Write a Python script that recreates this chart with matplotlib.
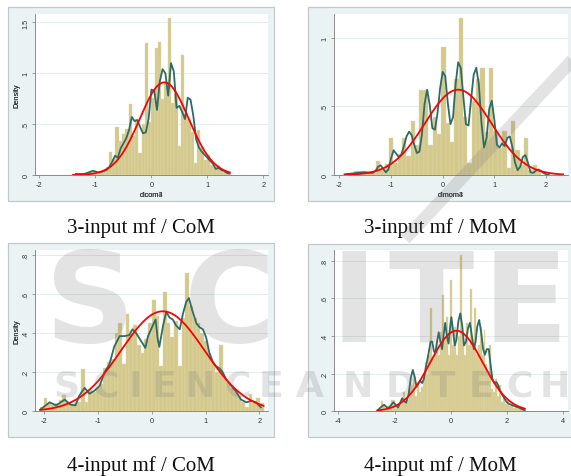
import numpy as np
import matplotlib
matplotlib.use("Agg")
import matplotlib.pyplot as plt
from matplotlib.patches import Rectangle
from matplotlib.lines import Line2D

W, H = 571, 477

# ---------------- data ----------------
# panel 1 : 3-input mf / CoM  (variable dicom3)
p1_range = (-1.40, 1.40)
p1_heights = [0.01, 0.01, 0.0, 0.02, 0.02, 0.04, 0.03, 0.01, 0.03, 0.05, 0.08,
              0.23, 0.16, 0.47, 0.33, 0.40, 0.45, 0.70, 0.38, 0.55, 0.22,
              0.50, 1.30, 0.52, 0.76, 1.25, 1.31, 0.75, 0.90, 1.54, 0.71,
              0.80, 0.29, 1.18, 0.60, 0.55, 0.42, 0.12, 0.44, 0.28, 0.15,
              0.20, 0.10, 0.08, 0.10, 0.05, 0.03, 0.02]
p1_kde_x = [-1.35, -1.30, -1.25, -1.20, -1.15, -1.10, -1.05, -1.00, -0.95, -0.90,
            -0.85, -0.80, -0.75, -0.70, -0.65, -0.60, -0.55, -0.50, -0.45, -0.40,
            -0.35, -0.30, -0.25, -0.20, -0.15, -0.10, -0.05, 0.00, 0.05, 0.10,
            0.15, 0.20, 0.25, 0.30, 0.35, 0.40, 0.45, 0.50, 0.55, 0.60,
            0.65, 0.70, 0.75, 0.80, 0.85, 0.90, 0.95, 1.00, 1.05, 1.10,
            1.15, 1.20, 1.25, 1.30, 1.35, 1.40]
p1_kde_y = [0.01, 0.01, 0.01, 0.01, 0.02, 0.03, 0.04, 0.035, 0.025, 0.03,
            0.04, 0.05, 0.08, 0.13, 0.19, 0.17, 0.26, 0.31, 0.36, 0.44,
            0.57, 0.53, 0.54, 0.47, 0.41, 0.42, 0.55, 0.84, 0.83, 0.64,
            0.92, 1.04, 1.00, 0.78, 1.10, 1.02, 0.66, 0.68, 0.62, 0.55,
            0.76, 0.74, 0.58, 0.35, 0.27, 0.23, 0.20, 0.17, 0.14, 0.11,
            0.06, 0.07, 0.05, 0.04, 0.02, 0.015]
p1_mu, p1_sd = 0.23, 0.438

# panel 2 : 3-input mf / MoM  (variable dimom3)
p2_range = (-1.88, 2.33)
p2_heights = [0.01, 0.0, 0.03, 0.02, 0.03, 0.03, 0.03, 0.10, 0.04, 0.08,
              0.27, 0.09, 0.15, 0.27, 0.14, 0.39, 0.22, 0.62, 0.62, 0.22,
              0.42, 0.30, 0.93, 0.38, 0.24, 0.70, 1.14, 0.42, 0.09, 0.54,
              0.70, 0.78, 0.31, 0.78, 0.32, 0.20, 0.32, 0.05, 0.39, 0.18,
              0.07, 0.27, 0.04, 0.07, 0.03, 0.0, 0.01, 0.0, 0.0, 0.0]
p2_kde_x = [-1.90, -1.85, -1.80, -1.75, -1.70, -1.65, -1.60, -1.55, -1.50, -1.45,
            -1.40, -1.35, -1.30, -1.25, -1.20, -1.15, -1.10, -1.05, -1.00, -0.95,
            -0.90, -0.85, -0.80, -0.75, -0.70, -0.65, -0.60, -0.55, -0.50, -0.45,
            -0.40, -0.35, -0.30, -0.25, -0.20, -0.15, -0.10, -0.05, 0.00, 0.05,
            0.10, 0.15, 0.20, 0.25, 0.30, 0.35, 0.40, 0.45, 0.50, 0.55,
            0.60, 0.65, 0.70, 0.75, 0.80, 0.85, 0.90, 0.95, 1.00, 1.05,
            1.10, 1.15, 1.20, 1.25, 1.30, 1.35, 1.40, 1.45, 1.50, 1.55,
            1.60, 1.65, 1.70, 1.75, 1.80, 1.85, 1.90, 1.95, 2.00, 2.05]
p2_kde_y = [0.005, 0.007, 0.009, 0.011, 0.013, 0.016, 0.019, 0.02, 0.019, 0.017,
            0.015, 0.016, 0.03, 0.06, 0.07, 0.045, 0.02, 0.04, 0.12, 0.18,
            0.155, 0.13, 0.15, 0.21, 0.28, 0.315, 0.29, 0.22, 0.16, 0.17,
            0.30, 0.52, 0.62, 0.51, 0.34, 0.33, 0.45, 0.63, 0.75, 0.72,
            0.52, 0.37, 0.42, 0.66, 0.82, 0.78, 0.57, 0.37, 0.36, 0.55,
            0.73, 0.78, 0.66, 0.38, 0.20, 0.27, 0.48, 0.54, 0.40, 0.22,
            0.20, 0.23, 0.21, 0.27, 0.28, 0.20, 0.09, 0.035, 0.06, 0.13,
            0.145, 0.09, 0.02, 0.015, 0.03, 0.04, 0.03, 0.015, 0.006, 0.002]
p2_mu, p2_sd = 0.30, 0.643

# panel 3 : 4-input mf / CoM  (variable dicom4)
p3_range = (-2.08, 2.08)
p3_heights = [0.02, 0.07, 0.04, 0.03, 0.04, 0.06, 0.085, 0.05, 0.03, 0.04,
              0.05, 0.215, 0.05, 0.11, 0.10, 0.12, 0.14, 0.22, 0.25, 0.27,
              0.40, 0.45, 0.24, 0.50, 0.40, 0.44, 0.34, 0.30, 0.37, 0.45,
              0.57, 0.49, 0.23, 0.61, 0.45, 0.38, 0.46, 0.23, 0.48, 0.71,
              0.54, 0.48, 0.45, 0.40, 0.36, 0.30, 0.25, 0.20, 0.34, 0.17,
              0.15, 0.12, 0.10, 0.08, 0.05, 0.02, 0.09, 0.04, 0.07, 0.04]
p3_kde_x = [-2.06, -1.90, -1.78, -1.62, -1.52, -1.42, -1.35, -1.25, -1.16, -1.07,
            -0.97, -0.88, -0.79, -0.70, -0.60, -0.51, -0.42, -0.36, -0.29, -0.20,
            -0.12, -0.07, 0.02, 0.07, 0.11, 0.14, 0.21, 0.27, 0.33, 0.39,
            0.45, 0.52, 0.58, 0.64, 0.69, 0.75, 0.83, 0.89, 0.95, 1.01,
            1.07, 1.14, 1.20, 1.26, 1.32, 1.38, 1.48, 1.57, 1.66, 1.76,
            1.85, 1.94, 2.03]
p3_kde_y = [0.012, 0.046, 0.03, 0.06, 0.035, 0.03, 0.08, 0.12, 0.09, 0.105,
            0.13, 0.20, 0.24, 0.33, 0.385, 0.385, 0.39, 0.42, 0.40, 0.36,
            0.325, 0.385, 0.44, 0.47, 0.37, 0.33, 0.44, 0.51, 0.48, 0.47,
            0.44, 0.42, 0.50, 0.56, 0.58, 0.52, 0.45, 0.43, 0.42, 0.38,
            0.30, 0.25, 0.23, 0.22, 0.20, 0.165, 0.13, 0.10, 0.06, 0.046,
            0.054, 0.046, 0.02]
p3_mu, p3_sd = 0.205, 0.779

# panel 4 : 4-input mf / MoM  (variable dimom4)
p4_range = (-2.61, 2.63)
p4_heights = [0.0, 0.01, 0.057, 0.03, 0.01, 0.03, 0.03, 0.06, 0.06, 0.02,
              0.03, 0.05, 0.05, 0.10, 0.04, 0.06, 0.12, 0.14, 0.19, 0.08,
              0.15, 0.10, 0.13, 0.18, 0.26, 0.20, 0.30, 0.55, 0.28, 0.32,
              0.37, 0.30, 0.42, 0.62, 0.38, 0.50, 0.30, 0.70, 0.35, 0.45,
              0.30, 0.40, 0.83, 0.40, 0.30, 0.47, 0.35, 0.65, 0.35, 0.55,
              0.30, 0.35, 0.45, 0.30, 0.43, 0.25, 0.20, 0.35, 0.12, 0.10,
              0.17, 0.08, 0.14, 0.05, 0.07, 0.04, 0.06, 0.03, 0.04, 0.02,
              0.03, 0.02, 0.01, 0.02, 0.01]
p4_kde_x = [-2.61, -2.50, -2.37, -2.30, -2.23, -2.14, -2.05, -1.96, -1.88, -1.80,
            -1.73, -1.66, -1.59, -1.50, -1.42, -1.35, -1.28, -1.22, -1.15, -1.08,
            -1.02, -0.96, -0.88, -0.80, -0.72, -0.66, -0.60, -0.55, -0.49, -0.43,
            -0.37, -0.31, -0.26, -0.20, -0.14, -0.08, -0.03, 0.02, 0.08, 0.14,
            0.20, 0.27, 0.34, 0.41, 0.47, 0.54, 0.61, 0.68, 0.75, 0.82,
            0.88, 0.94, 1.01, 1.08, 1.15, 1.21, 1.28, 1.35, 1.42, 1.48,
            1.55, 1.62, 1.68, 1.75, 1.82, 1.90, 1.98, 2.06, 2.14, 2.22,
            2.32, 2.42, 2.52, 2.63]
p4_kde_y = [0.004, 0.02, 0.035, 0.025, 0.015, 0.03, 0.048, 0.035, 0.02, 0.045,
            0.07, 0.055, 0.045, 0.09, 0.18, 0.22, 0.18, 0.13, 0.15, 0.16,
            0.15, 0.17, 0.24, 0.30, 0.37, 0.37, 0.32, 0.31, 0.37, 0.42,
            0.37, 0.33, 0.40, 0.47, 0.40, 0.36, 0.44, 0.50, 0.43, 0.35,
            0.38, 0.48, 0.52, 0.45, 0.35, 0.37, 0.44, 0.47, 0.40, 0.33,
            0.37, 0.45, 0.485, 0.42, 0.33, 0.30, 0.33, 0.33, 0.24, 0.17,
            0.15, 0.155, 0.14, 0.11, 0.09, 0.07, 0.05, 0.04, 0.035, 0.03,
            0.025, 0.02, 0.012, 0.006]
p4_mu, p4_sd = 0.20, 0.932

panel_xlabels = ["dicom3", "dimom3", "dicom4", "dimom4"]
captions = ["3-input mf / CoM", "3-input mf / MoM", "4-input mf / CoM", "4-input mf / MoM"]
x_ticks = [[-2, -1, 0, 1, 2], [-2, -1, 0, 1, 2], [-2, -1, 0, 1, 2], [-4, -2, 0, 2, 4]]
x_ticklabels = [["-2", "-1", "0", "1", "2"], ["-2", "-1", "0", "1", "2"],
                ["-2", "-1", "0", "1", "2"], ["-4", "-2", "0", "2", "4"]]
y_ticks = [[0, 0.5, 1, 1.5], [0, 0.5, 1], [0, 0.2, 0.4, 0.6, 0.8], [0, 0.2, 0.4, 0.6, 0.8]]
y_ticklabels = [["0", ".5", "1", "1.5"], ["0", ".5", "1"],
                ["0", ".2", ".4", ".6", ".8"], ["0", ".2", ".4", ".6", ".8"]]

# watermark text (publisher overlay)
wm_big = "SCITE"
wm_small = "SCIENCE AND TECH"

# ---------------- layout (pixels) ----------------
plot_boxes = [(35, 268, 15, 176), (334.3, 568, 15, 176),
              (35, 268, 251, 412.3), (334.3, 568, 251, 412.3)]
graph_boxes = [(8, 274, 8, 202), (308, 580, 8, 202),
               (8, 274, 244, 438), (308, 580, 245, 438)]
xlims = [(-2.08, 2.084), (-2.097, 2.425), (-2.173, 2.162), (-4.142, 4.167)]
ylims = [(0, 1.583), (0, 1.171), (0, 0.826), (0, 0.857)]
caption_pos = [(140.5, 233), (440, 233), (140.5, 471), (440, 471)]
wm_big_x = [45, 184, 330, 388, 482]
wm_small_x = [66, 105, 135, 164, 200, 237, 271, None, 310, 358, 401, None, 443, 481, 519, 555]

BAR_FC = "#D3C98D"
BAR_EC = "#E2DBAE"
KDE_C = "#2E6B66"
NORM_C = "#FF0000"
GR_BG = "#EAF2F3"
WM_C = (0.45, 0.45, 0.45, 0.2)

fig = plt.figure(figsize=(W / 100, H / 100), dpi=100)
fig.patch.set_facecolor("white")

def fx(px):
    return px / W

def fy(py):
    return 1 - py / H

panels = [
    (p1_range, p1_heights, p1_kde_x, p1_kde_y, p1_mu, p1_sd),
    (p2_range, p2_heights, p2_kde_x, p2_kde_y, p2_mu, p2_sd),
    (p3_range, p3_heights, p3_kde_x, p3_kde_y, p3_mu, p3_sd),
    (p4_range, p4_heights, p4_kde_x, p4_kde_y, p4_mu, p4_sd),
]

for k, (rng, heights, kx, ky, mu, sd) in enumerate(panels):
    gx0, gx1, gy0, gy1 = graph_boxes[k]
    fig.patches.append(Rectangle((fx(gx0), fy(gy1)), fx(gx1) - fx(gx0), fy(gy0) - fy(gy1),
                                 transform=fig.transFigure, facecolor=GR_BG,
                                 edgecolor="#C4C8C8", linewidth=0.9, zorder=-10))
    x0, x1, y0, y1 = plot_boxes[k]
    ax = fig.add_axes([fx(x0), fy(y1), fx(x1) - fx(x0), fy(y0) - fy(y1)])
    ax.set_zorder(1)
    ax.set_facecolor("white")
    n = len(heights)
    edges = np.linspace(rng[0], rng[1], n + 1)
    centers = 0.5 * (edges[:-1] + edges[1:])
    ax.bar(centers, heights, width=edges[1] - edges[0], color=BAR_FC,
           edgecolor=BAR_EC, linewidth=0.3, zorder=2)
    ax.plot(kx, ky, color=KDE_C, lw=1.3, zorder=3, solid_joinstyle="round")
    xs = np.linspace(rng[0], rng[1], 300)
    ys = np.exp(-0.5 * ((xs - mu) / sd) ** 2) / (sd * np.sqrt(2 * np.pi))
    ax.plot(xs, ys, color=NORM_C, lw=1.3, zorder=4)

    ax.set_xlim(*xlims[k])
    ax.set_ylim(*ylims[k])
    ax.set_xticks(x_ticks[k])
    ax.set_xticklabels(x_ticklabels[k])
    ax.set_yticks(y_ticks[k])
    ax.set_yticklabels(y_ticklabels[k], rotation=90, va="center")
    for t in y_ticks[k][1:]:
        ax.axhline(t, color="#E4ECEE", lw=0.7, zorder=1)
    for s in ["top", "right"]:
        ax.spines[s].set_visible(False)
    for s in ["left", "bottom"]:
        ax.spines[s].set_color("#7A7A7A")
        ax.spines[s].set_linewidth(0.6)
    ax.tick_params(axis="both", length=2.5, width=0.5, color="#7A7A7A",
                   labelsize=5.3, labelcolor="#333333", pad=1.5)
    for lab in ax.get_xticklabels() + ax.get_yticklabels():
        lab.set_fontfamily(["Liberation Sans", "DejaVu Sans"])
    ax.set_ylabel("Density", fontsize=5.3, color="#333333",
                  fontfamily=["Liberation Sans", "DejaVu Sans"])
    ax.set_xlabel(panel_xlabels[k], fontsize=5.3, color="#333333",
                  fontfamily=["Liberation Sans", "DejaVu Sans"])
    ax.yaxis.set_label_coords((20 - x0) / (x1 - x0), 0.5)
    ax.xaxis.set_label_coords(0.5, -(192 - y1) / (y1 - y0))

    cx, cy = caption_pos[k]
    fig.text(fx(cx), fy(cy), captions[k], ha="center", va="baseline",
             fontsize=15, fontfamily=["Liberation Serif", "DejaVu Serif"],
             color="#111111", zorder=5)

# ---------------- watermark overlay ----------------
for ch, px in zip(wm_big, wm_big_x):
    fig.text(fx(px), fy(342), ch, ha="left", va="baseline", fontsize=90,
             fontweight="bold", fontfamily="DejaVu Sans", color=WM_C, zorder=20)
for ch, px in zip(wm_small, wm_small_x):
    if px is None:
        continue
    fig.text(fx(px), fy(397), ch, ha="center", va="baseline", fontsize=26,
             fontweight="bold", fontfamily="DejaVu Sans", color=WM_C, zorder=20)
fig.add_artist(Line2D([fx(578), fx(405)], [fy(55), fy(240)], transform=fig.transFigure,
                      color=WM_C, lw=9, solid_capstyle="butt", zorder=20))

fig.savefig("out.png", dpi=100)
